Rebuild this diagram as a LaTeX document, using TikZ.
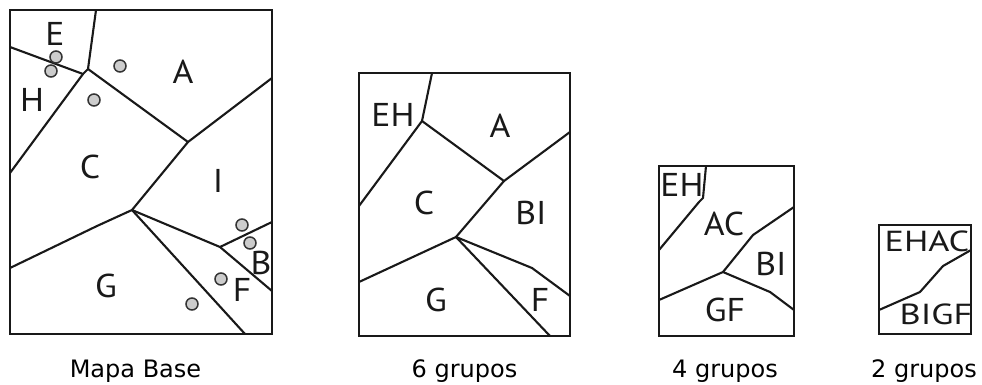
\documentclass[tikz,border=0pt]{standalone}
\usepackage{fontspec}
\setmainfont{PT Sans}
\newfontfamily\capfont{DejaVu Sans}
\begin{document}
\begin{tikzpicture}[x=1pt,y=-1pt,
  frame/.style={draw=black!90,line width=2.5pt},
  edge/.style={draw=black!90,line width=2.1pt,line join=round},
  site/.style={circle,draw=black!80,fill=black!20,line width=1.5pt,minimum size=12pt,inner sep=0pt},
  region/.style={font=\fontsize{33}{33}\selectfont,inner sep=0pt,text=black!90,xscale=1.08},
  smallregion/.style={font=\fontsize{29}{29}\selectfont,inner sep=0pt,text=black!90,xscale=1.25},
  caption/.style={font=\capfont\fontsize{24}{24}\selectfont,anchor=base,inner sep=0pt}]
\useasboundingbox (0,0) rectangle (982,385);

% ---- Mapa Base ----
\draw[frame] (10,10) rectangle (272,334);
\coordinate (m1top) at (96,10);
\coordinate (m1a) at (88,69);
\coordinate (m1eh) at (10,47);
\coordinate (m1ehj) at (83,74);
\coordinate (m1hc) at (10,173);
\coordinate (m1b) at (188,142);
\coordinate (m1ai) at (272,78);
\coordinate (m1c) at (132,210);
\coordinate (m1cg) at (97,226);
\coordinate (m1gl) at (10,268);
\coordinate (m1d) at (220,247);
\coordinate (m1bi) at (272,222);
\coordinate (m1fb) at (272,291);
\coordinate (m1gf) at (245,334);
\draw[edge] (m1top) -- (m1a) -- (m1ehj) -- (m1hc);
\draw[edge] (m1eh) -- (m1ehj);
\draw[edge] (m1a) -- (m1b) -- (m1ai);
\draw[edge] (m1b) -- (m1c) -- (m1cg) -- (m1gl);
\draw[edge] (m1c) -- (m1d) -- (m1bi);
\draw[edge] (m1d) -- (m1fb);
\draw[edge] (m1c) -- (m1gf);
\node[site] (s1) at (56,57) {};
\node[site] (s2) at (51,71) {};
\node[site] (s3) at (120,66) {};
\node[site] (s4) at (94,100) {};
\node[site] (s5) at (242,225) {};
\node[site] (s6) at (250,243) {};
\node[site] (s7) at (221,279) {};
\node[site] (s8) at (192,304) {};
\node[region] (lE) at (55,34) {E};
\node[region] (lA) at (183,72) {A};
\node[region] (lH) at (32,100) {H};
\node[region] (lC) at (90,167) {C};
\node[region] (lI) at (218,181) {I};
\node[region] (lB) at (261,263) {B};
\node[region] (lG) at (106,286) {G};
\node[region] (lF) at (242,290) {F};
\node[caption] (cap1) at (135.5,377) {Mapa Base};

% ---- 6 grupos ----
\draw[frame] (359,73) rectangle (570,336);
\coordinate (m2top) at (432,73);
\coordinate (m2a) at (422,121);
\coordinate (m2l) at (359,206);
\coordinate (m2b) at (504,181);
\coordinate (m2r) at (570,132);
\coordinate (m2c) at (456,237);
\coordinate (m2gl) at (359,282);
\coordinate (m2d) at (532,268);
\coordinate (m2fr) at (570,296);
\coordinate (m2bot) at (550,336);
\draw[edge] (m2top) -- (m2a) -- (m2l);
\draw[edge] (m2a) -- (m2b) -- (m2r);
\draw[edge] (m2b) -- (m2c) -- (m2gl);
\draw[edge] (m2c) -- (m2d) -- (m2fr);
\draw[edge] (m2c) -- (m2bot);
\node[region] (lEH2) at (393,115) {EH};
\node[region] (lA2) at (500,126) {A};
\node[region] (lC2) at (424,203) {C};
\node[region] (lBI2) at (531,213) {BI};
\node[region] (lG2) at (436,300) {G};
\node[region] (lF2) at (540,300) {F};
\node[caption] (cap2) at (464.5,377) {6 grupos};

% ---- 4 grupos ----
\draw[frame] (659,166) rectangle (794,336);
\coordinate (m3top) at (706,166);
\coordinate (m3a) at (703,198);
\coordinate (m3a2) at (699,202);
\coordinate (m3l) at (659,250);
\coordinate (m3gl) at (659,300);
\coordinate (m3c) at (723,272);
\coordinate (m3b) at (753,235);
\coordinate (m3r) at (794,207);
\coordinate (m3d) at (770,292);
\coordinate (m3fr) at (794,310);
\draw[edge] (m3top) -- (m3a) -- (m3a2) -- (m3l);
\draw[edge] (m3gl) -- (m3c) -- (m3b) -- (m3r);
\draw[edge] (m3c) -- (m3d) -- (m3fr);
\node[region] (lEH3) at (682,185) {EH};
\node[region] (lAC3) at (724,224) {AC};
\node[region] (lBI3) at (771,264) {BI};
\node[region] (lGF3) at (725,310) {GF};
\node[caption] (cap3) at (725,377) {4 grupos};

% ---- 2 grupos ----
\draw[frame] (879,225) rectangle (971,334);
\coordinate (m4l) at (879,310);
\coordinate (m4a) at (920,292);
\coordinate (m4b) at (943,266);
\coordinate (m4r) at (971,250);
\draw[edge] (m4l) -- (m4a) -- (m4b) -- (m4r);
\node[smallregion] (lEHAC) at (927,241) {EHAC};
\node[smallregion] (lBIGF) at (936,314) {BIGF};
\node[caption] (cap4) at (924,377) {2 grupos};
\end{tikzpicture}
\end{document}
